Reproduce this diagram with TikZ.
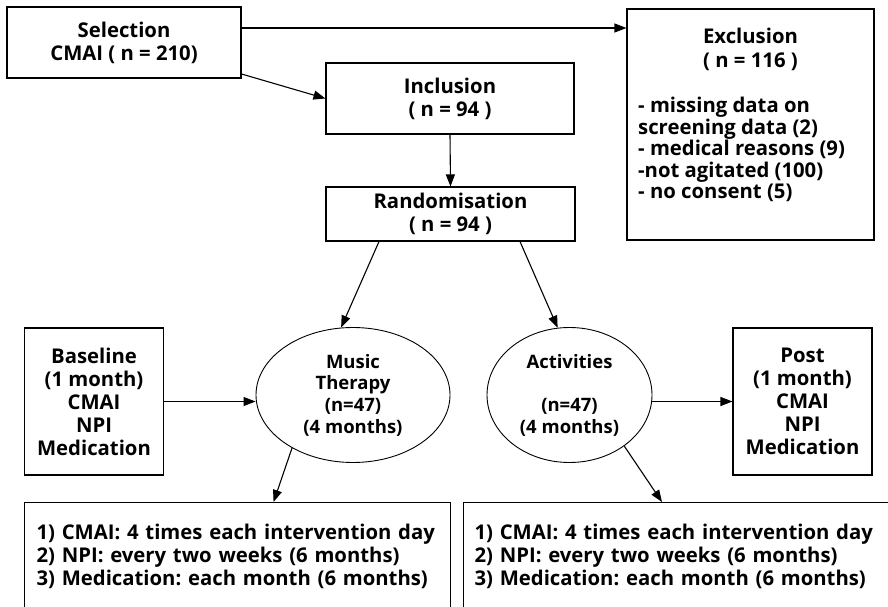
\documentclass[tikz,border=0pt]{standalone}
\usepackage{fontspec}
\setmainfont{Open Sans}
\usetikzlibrary{positioning,shapes.geometric,arrows.meta}
\frenchspacing

\begin{document}
\begin{tikzpicture}[x=1pt,y=-1pt,
    box/.style={draw, line width=1.1pt, rectangle, inner sep=0pt, align=center,
      font=\bfseries\fontsize{20.3}{23}\selectfont},
    txt/.style={inner sep=0pt, font=\bfseries\fontsize{20.3}{21.4}\selectfont},
    oval/.style={draw, line width=0.9pt, ellipse, inner sep=0pt, align=center,
      font=\bfseries\fontsize{18.5}{21.7}\selectfont},
    arr/.style={-{Triangle[length=12pt,width=9pt]}, line width=1.1pt}]
  \useasboundingbox (0,0) rectangle (888,607);
  \clip (0,0) rectangle (888,607);

  % Nodes
  \node[box, minimum width=234, minimum height=71] (sel) at (124,42.5) {Selection\\CMAI ( n = 210)};
  \node[box, minimum width=248, minimum height=71] (incl) at (450,98.5) {Inclusion\\( n = 94 )};
  \node[box, minimum width=249, minimum height=54] (rand) at (450.5,214) {Randomisation\\( n = 94 )};
  \node[box, minimum width=247, minimum height=231] (excl) at (750.5,124.5) {};
  \node[txt, align=center, font=\bfseries\fontsize{20.3}{24}\selectfont] (exclhead) at (750.5,49) {Exclusion\\( n = 116 )};
  \node[txt, align=left, anchor=west] (excllist) at (638,149.5)
    {- missing data on\\screening data (2)\\- medical reasons (9)\\-not agitated (100)\\- no consent (5)};

  \node[box, minimum width=139, minimum height=147] (base) at (94,401.5) {Baseline\\(1 month)\\CMAI\\NPI\\Medication};
  \node[box, minimum width=139, minimum height=147] (post) at (802.5,401.5) {Post\\(1 month)\\CMAI\\NPI\\Medication};
  \node[oval, minimum width=194, minimum height=135] (music) at (353,395) {Music\\Therapy\\(n=47)\\(4 months)};
  \node[oval, minimum width=165, minimum height=135] (act) at (569.5,395) {Activities\\[21.7pt](n=47)\\(4 months)};

  \node[box, anchor=north west, align=left, inner xsep=12pt, text width=402pt, minimum height=108] (measl) at (24,502)
    {1) CMAI: 4 times each intervention day\\2) NPI: every two weeks (6 months)\\3) Medication: each month (6 months)};
  \node[box, anchor=north west, align=left, inner xsep=11pt, text width=418pt, minimum height=108] (measr) at (463,502)
    {1) CMAI: 4 times each intervention day\\2) NPI: every two weeks (6 months)\\3) Medication: each month (6 months)};

  % Arrows
  \draw[arr] ([yshift=14.5pt]sel.east) -- ([yshift=14.5pt]sel.east -| excl.west);
  \draw[arr] ([yshift=-31.5pt]sel.east) -- (incl.west);
  \draw[arr] (incl.south) -- (rand.north);
  \draw[arr] ([xshift=-71.5pt]rand.south) -- (music.100);
  \draw[arr] ([xshift=69.5pt]rand.south) -- (act.100);
  \draw[arr] (base.east) -- (base.east -| music.west);
  \draw[arr] (act.east |- post.west) -- (post.west);
  \draw[arr] (music.-139) -- ([xshift=36pt]measl.north);
  \draw[arr] (act.-43) -- ([xshift=199pt]measr.north west);
\end{tikzpicture}
\end{document}
